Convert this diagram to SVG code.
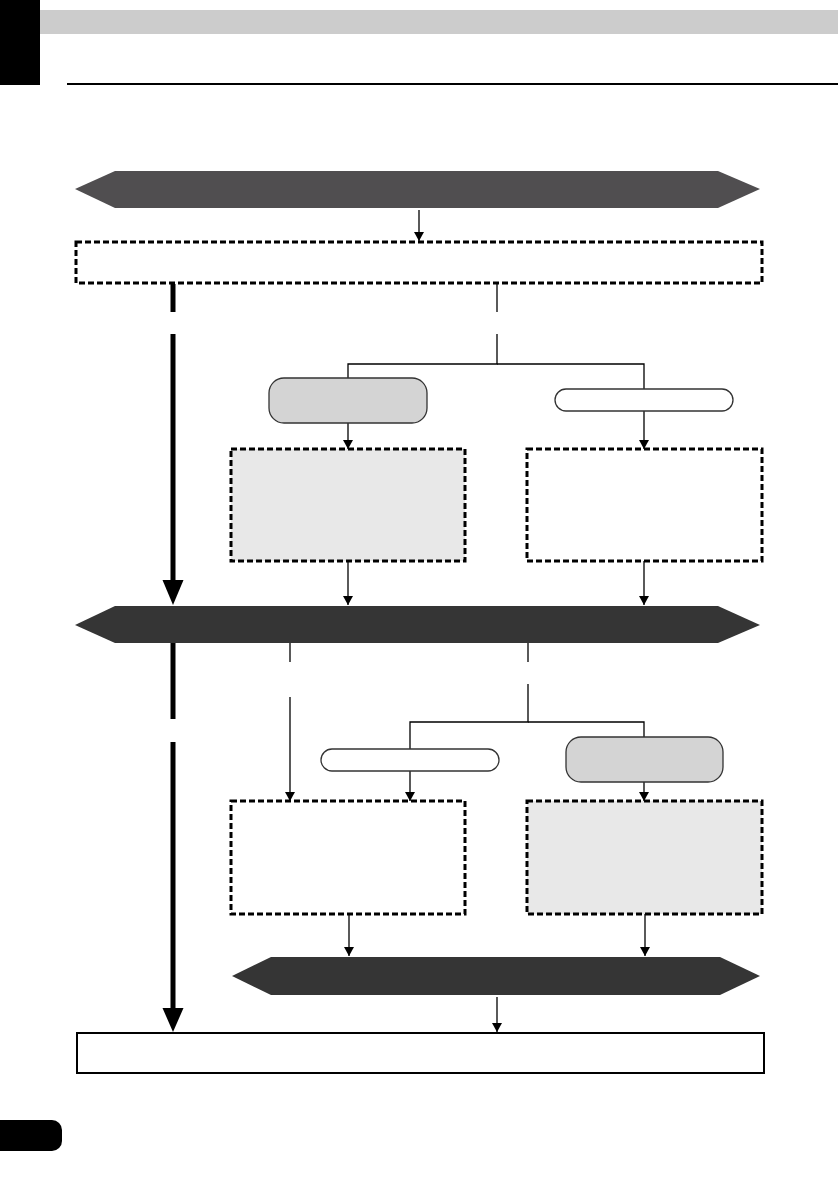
<svg xmlns="http://www.w3.org/2000/svg" width="838" height="1190" viewBox="0 0 838 1190">
<defs>
<style>
.dot{stroke:#000;stroke-width:3;stroke-dasharray:6 3}
.thin{fill:none;stroke:#000;stroke-width:1.3}
.thick{fill:none;stroke:#000;stroke-width:5}
.ban1{fill:#504e50}
.ban{fill:#353535}
.pillg{fill:#d4d4d4;stroke:#333;stroke-width:1.3}
.pillw{fill:#fff;stroke:#333;stroke-width:1.3}
</style>
<marker id="ah" markerWidth="10" markerHeight="10" refX="9" refY="5" orient="auto" markerUnits="userSpaceOnUse" viewBox="0 0 10 10">
<path d="M0,0 L9,5 L0,10 Z" fill="#000"/>
</marker>
</defs>
<rect width="838" height="1190" fill="#fff"/>
<g id="header">
<rect x="40" y="10" width="798" height="24" fill="#cccccc"/>
<rect x="0" y="0" width="40" height="85" fill="#000"/>
<rect x="67" y="83" width="771" height="2" fill="#000"/>
<path d="M0,1120 H52 A10,10 0 0 1 62,1130 V1141 A10,10 0 0 1 52,1151 H0 Z" fill="#000"/>
</g>
<g id="connectors">
<line class="thin" x1="419" y1="210" x2="419" y2="241" marker-end="url(#ah)"/>
<line class="thick" x1="173" y1="284" x2="173" y2="312"/>
<line class="thick" x1="173" y1="334" x2="173" y2="585"/>
<path d="M162.5,580 L183.5,580 L173,605 Z" fill="#000"/>
<line class="thick" x1="173" y1="643" x2="173" y2="719"/>
<line class="thick" x1="173" y1="742" x2="173" y2="1012"/>
<path d="M162.5,1008 L183.5,1008 L173,1032 Z" fill="#000"/>
<line class="thin" x1="497" y1="284" x2="497" y2="312"/>
<polyline class="thin" points="497,334 497,364 348,364 348,378"/>
<polyline class="thin" points="497,364 644,364 644,389"/>
<line class="thin" x1="348" y1="423" x2="348" y2="449" marker-end="url(#ah)"/>
<line class="thin" x1="644" y1="411" x2="644" y2="449" marker-end="url(#ah)"/>
<line class="thin" x1="348" y1="561" x2="348" y2="605" marker-end="url(#ah)"/>
<line class="thin" x1="644" y1="561" x2="644" y2="605" marker-end="url(#ah)"/>
<line class="thin" x1="290" y1="643" x2="290" y2="662"/>
<line class="thin" x1="290" y1="697" x2="290" y2="801" marker-end="url(#ah)"/>
<line class="thin" x1="528" y1="643" x2="528" y2="662"/>
<polyline class="thin" points="528,684 528,722 410,722 410,749"/>
<polyline class="thin" points="528,722 644,722 644,737"/>
<line class="thin" x1="410" y1="771" x2="410" y2="801" marker-end="url(#ah)"/>
<line class="thin" x1="644" y1="782" x2="644" y2="801" marker-end="url(#ah)"/>
<line class="thin" x1="349" y1="914" x2="349" y2="956" marker-end="url(#ah)"/>
<line class="thin" x1="645" y1="914" x2="645" y2="956" marker-end="url(#ah)"/>
<line class="thin" x1="497" y1="997" x2="497" y2="1032" marker-end="url(#ah)"/>
</g>
<g id="banner1"><polygon class="ban1" points="75,189 115,171 718,171 760,189 718,208 115,208"/></g>
<g id="box1"><rect class="dot" x="76" y="242" width="686" height="41" fill="#fff"/></g>
<g id="pill1"><rect class="pillg" x="269" y="378" width="158" height="45" rx="15"/></g>
<g id="pill2"><rect class="pillw" x="555" y="389" width="178" height="22" rx="11"/></g>
<g id="box2"><rect class="dot" x="231" y="449" width="234" height="112" fill="#e8e8e8"/></g>
<g id="box3"><rect class="dot" x="527" y="449" width="235" height="112" fill="#fff"/></g>
<g id="banner2"><polygon class="ban" points="75,625 115,606 718,606 760,625 718,643 115,643"/></g>
<g id="pill3"><rect class="pillw" x="321" y="749" width="178" height="22" rx="11"/></g>
<g id="pill4"><rect class="pillg" x="566" y="737" width="157" height="45" rx="15"/></g>
<g id="box4"><rect class="dot" x="231" y="801" width="234" height="113" fill="#fff"/></g>
<g id="box5"><rect class="dot" x="527" y="801" width="235" height="113" fill="#e8e8e8"/></g>
<g id="banner3"><polygon class="ban" points="232,976 271,957 720,957 760,976 720,995 271,995"/></g>
<g id="box6"><rect x="77" y="1033" width="687" height="40" fill="#fff" stroke="#000" stroke-width="2"/></g>
</svg>
